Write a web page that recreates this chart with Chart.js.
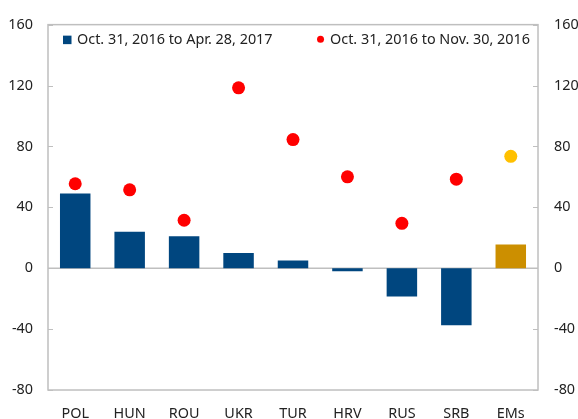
<!DOCTYPE html>
<html>
<head>
<meta charset="utf-8">
<script src="https://cdn.jsdelivr.net/npm/chart.js@4"></script>
<style>
html,body{margin:0;padding:0;background:#fff;}
#wrap{width:578px;height:419px;position:relative;}
</style>
</head>
<body>
<div id="wrap"><canvas id="c" width="578" height="419"></canvas></div>
<script>
const categories = ["POL","HUN","ROU","UKR","TUR","HRV","RUS","SRB","EMs"];
const barValues = [49, 24, 21, 10, 5, -2, -18.5, -37.5, 15.5];
const dotValues = [55.5, 51.5, 31.5, 118.5, 84.5, 60, 29.5, 58.5, 73.5];
const yTicks = [-80, -40, 0, 40, 80, 120, 160];
const barLabel = "Oct. 31, 2016 to Apr. 28, 2017";
const dotLabel = "Oct. 31, 2016 to Nov. 30, 2016";

const BLUE = "#00467f", GOLD = "#cc8f00", RED = "#ff0000", YEL = "#ffc000";
const GRID = "#bfbfbf", TXT = "#222222";
const FONT = "'Noto Sans', 'Open Sans', sans-serif";
const FS = 14.4;
const barColors = categories.map(c => c === "EMs" ? GOLD : BLUE);
const dotColors = categories.map(c => c === "EMs" ? YEL : RED);

const framePlugin = {
  id: 'frame',
  beforeDatasetsDraw(chart) {
    const {ctx, chartArea: a, scales} = chart;
    const y = scales.y;
    ctx.save();
    ctx.strokeStyle = GRID;
    ctx.lineWidth = 1.5;
    ctx.strokeRect(a.left, a.top, a.right - a.left, a.bottom - a.top);
    const z = y.getPixelForValue(0);
    ctx.beginPath();
    ctx.moveTo(a.left, z); ctx.lineTo(a.right, z);
    ctx.stroke();
    ctx.lineWidth = 1;
    yTicks.forEach(v => {
      const p = Math.round(y.getPixelForValue(v)) + 0.5;
      ctx.beginPath();
      ctx.moveTo(a.left, p); ctx.lineTo(a.left + 5, p);
      ctx.moveTo(a.right, p); ctx.lineTo(a.right - 5, p);
      ctx.stroke();
    });
    ctx.restore();
  },
  afterDraw(chart) {
    const {ctx, chartArea: a} = chart;
    ctx.save();
    ctx.font = FS + "px " + FONT;
    ctx.textBaseline = "middle";
    const ly = a.top + 15;
    ctx.fillStyle = BLUE;
    ctx.fillRect(a.left + 15, ly - 4, 8.5, 8.5);
    ctx.fillStyle = TXT;
    ctx.textAlign = "left";
    ctx.fillText(barLabel, a.left + 29, ly);
    ctx.textAlign = "right";
    ctx.fillText(dotLabel, a.right - 8, ly);
    const w = ctx.measureText(dotLabel).width;
    ctx.fillStyle = RED;
    ctx.beginPath();
    ctx.arc(a.right - 8 - w - 9.5, ly - 0.5, 3.5, 0, Math.PI * 2);
    ctx.fill();
    ctx.restore();
  }
};

new Chart(document.getElementById('c'), {
  data: {
    labels: categories,
    datasets: [
      {
        type: 'line',
        label: dotLabel,
        data: dotValues,
        showLine: false,
        pointRadius: 6.5,
        pointHoverRadius: 6.5,
        pointBackgroundColor: dotColors,
        pointBorderWidth: 0,
        pointBorderColor: dotColors,
        yAxisID: 'y',
        order: 0
      },
      {
        type: 'bar',
        label: barLabel,
        data: barValues,
        backgroundColor: barColors,
        categoryPercentage: 1,
        barPercentage: 0.56,
        yAxisID: 'y',
        order: 1
      }
    ]
  },
  plugins: [framePlugin],
  options: {
    responsive: false,
    animation: false,
    devicePixelRatio: 1,
    layout: {padding: {top: 19, left: 0, right: 0, bottom: 0}},
    plugins: {legend: {display: false}, tooltip: {enabled: false}},
    scales: {
      x: {
        grid: {display: false, drawTicks: false},
        border: {display: false},
        ticks: {color: TXT, font: {family: FONT, size: FS}, padding: 15, maxRotation: 0},
        afterFit(s) { s.height = 29; }
      },
      y: {
        position: 'left',
        min: -80, max: 160,
        afterBuildTicks(s) { s.ticks = yTicks.map(v => ({value: v})); },
        grid: {display: false, drawTicks: false},
        border: {display: false},
        ticks: {color: TXT, font: {family: FONT, size: FS}, padding: 15},
        afterFit(s) { s.width = 48; }
      },
      y2: {
        position: 'right',
        min: -80, max: 160,
        afterBuildTicks(s) { s.ticks = yTicks.map(v => ({value: v})); },
        grid: {display: false, drawTicks: false},
        border: {display: false},
        ticks: {color: TXT, font: {family: FONT, size: FS}, padding: 16},
        afterFit(s) { s.width = 40; }
      }
    }
  }
});
</script>
</body>
</html>
